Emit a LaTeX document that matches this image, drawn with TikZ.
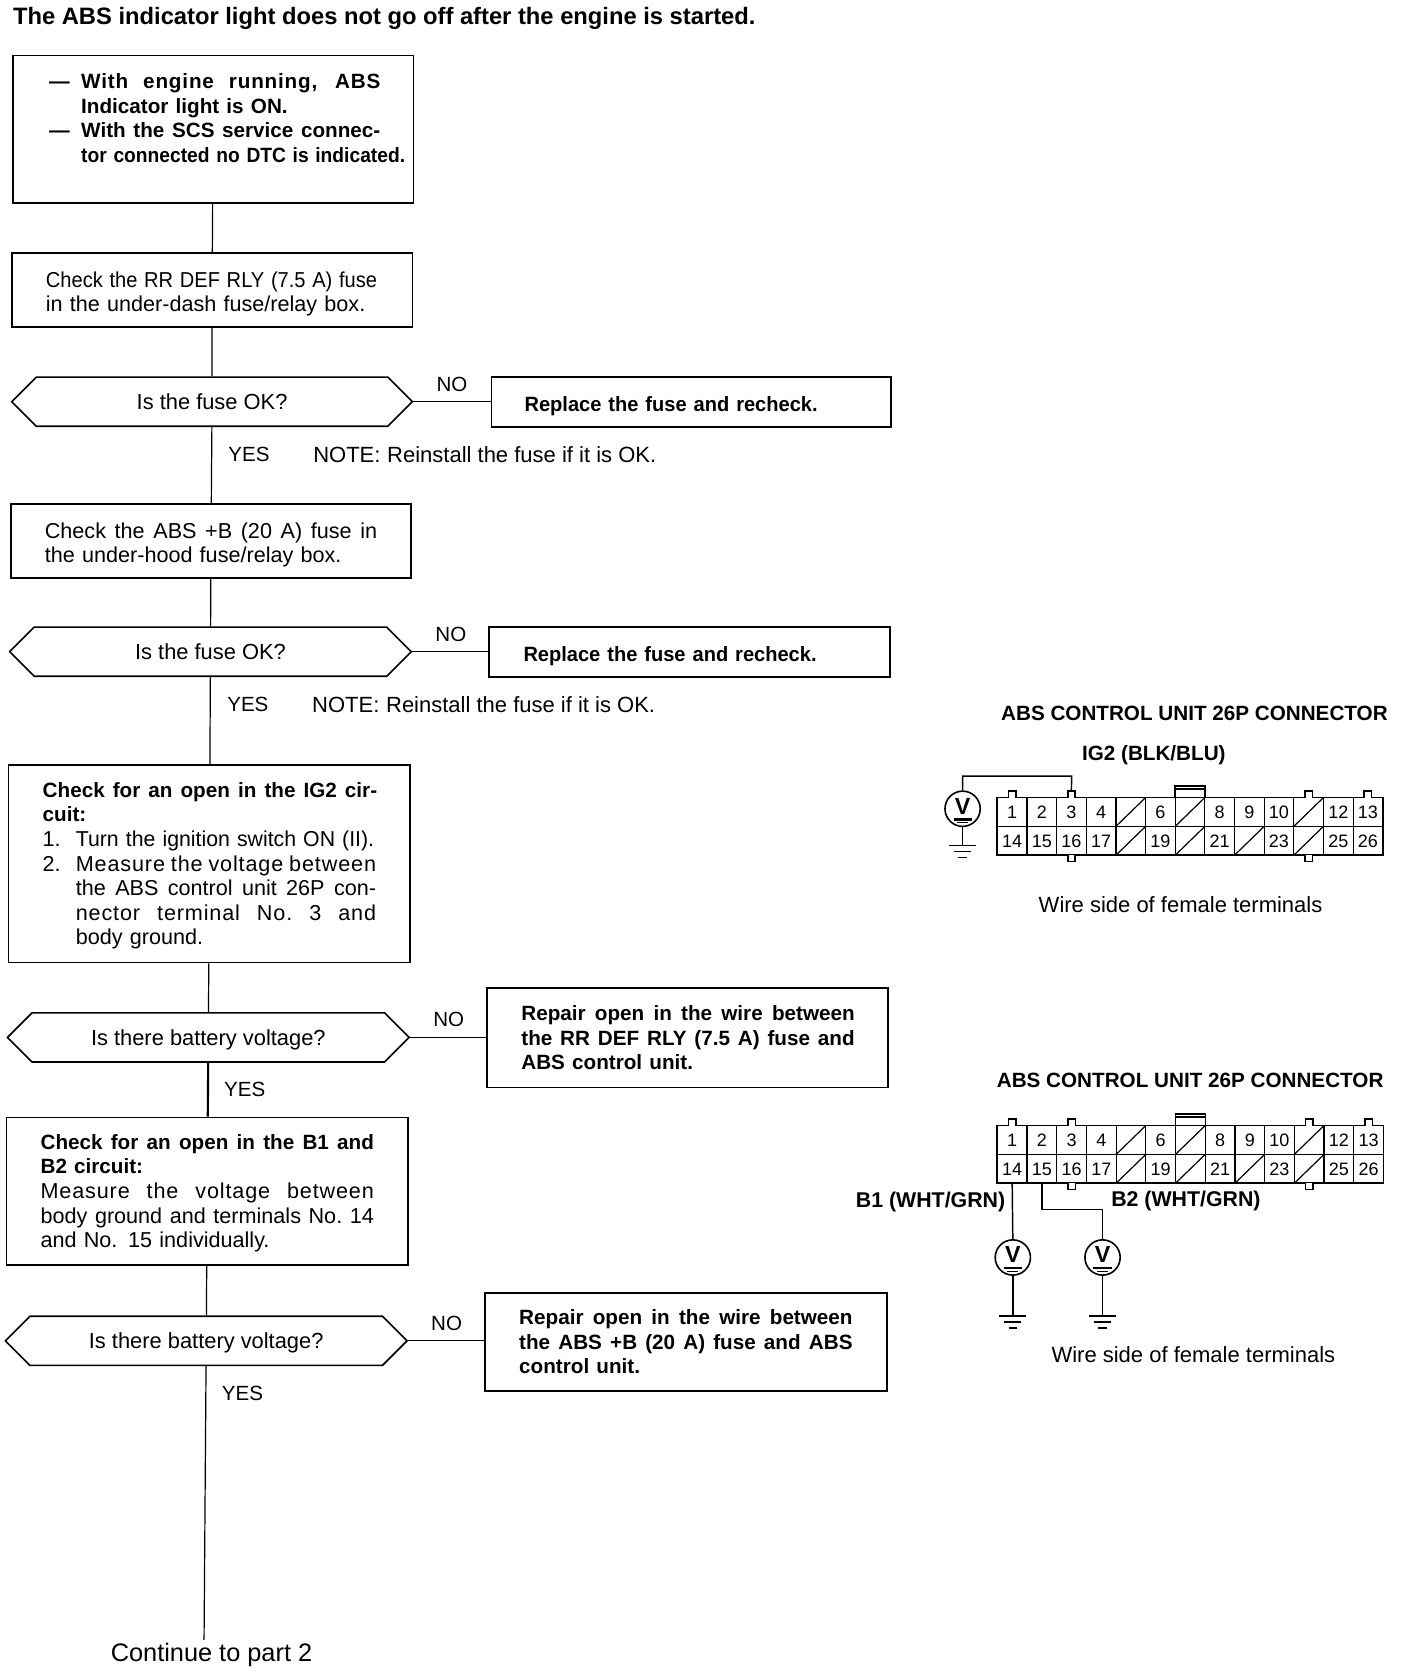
\documentclass[tikz,border=0pt]{standalone}
\usepackage{fontspec}
\setmainfont{Liberation Sans}
\usetikzlibrary{shapes.misc}
\newlength\uu \setlength\uu{0.8013pt}
\newcommand\lnw[2]{\makebox[#1\uu][s]{\spaceskip=.2em plus 1fil\relax\xspaceskip=\spaceskip #2}}
\newcommand\lead[1]{\hspace*{#1\uu}}
\newcommand\hx[1]{\raisebox{-.36em}{#1}}
\newcommand\tp[1]{\rule{0pt}{#1pt}}
\newcommand\ls{\addfontfeature{LetterSpace=4}}
\tikzset{
  wh/.style 2 args={minimum width=#1*0.8013pt,minimum height=#2*0.8013pt},
  bx/.style n args={3}{draw=black,line width=1.3pt,fill=white,align=left,
     minimum width=#1*0.8013pt,minimum height=#2*0.8013pt,
     text width=(#1-2*#3)*0.8013pt,inner xsep=#3*0.8013pt,inner ysep=0pt,
     font=\fontsize{16.2}{18.43}\selectfont},
  hexa/.style n args={2}{draw=black,line width=1.2pt,fill=white,chamfered rectangle,
     chamfered rectangle xsep=29*0.8013pt,chamfered rectangle ysep=#2*0.4006pt,
     minimum width=#1*0.8013pt,minimum height=#2*0.8013pt,inner sep=0pt,
     text height=0pt,text depth=0pt,
     font=\fontsize{16.4}{17}\selectfont},
  lab/.style={inner sep=0pt,font=\fontsize{16.5}{17}\selectfont},
  ylab/.style={inner sep=0pt,font=\fontsize{15.4}{17}\selectfont},
  blab/.style={inner sep=0pt,font=\fontsize{15.5}{17}\selectfont\bfseries},
  cnum/.style={inner sep=0pt,font=\fontsize{13.5}{15}\selectfont},
  wire/.style={draw=black,line width=1.1pt},
  flow/.style={draw=black,line width=0.9pt},
  vm/.style={draw=black,circle,line width=1.2pt,minimum size=33*0.8013pt,inner sep=0pt,
     font=\fontsize{17.5}{19}\selectfont\bfseries},
}
\newcommand\bb{\fontsize{15.5}{18.43}\selectfont\bfseries}
% connector body: #1 prefix, #2 left x, #3 top y, #4 cell width
\newcommand\cnctr[4]{
  \begin{scope}[shift={(#2,#3)}]
    \draw[line width=1.4pt] (0,0) rectangle (13*#4,54);
    \draw[line width=1.1pt] (0,27) -- (13*#4,27);
    \foreach \i in {1,...,12} \draw[line width=0.9pt] (\i*#4,0) -- (\i*#4,54);
    % slashed cells
    \foreach \i in {4,6,10} \draw[line width=0.9pt] (\i*#4,27) -- (\i*#4+#4,0);
    \foreach \i in {4,6,8,10} \draw[line width=0.9pt] (\i*#4,54) -- (\i*#4+#4,27);
    % locating tabs
    \foreach \i in {0,2,10,12} \draw[line width=1.2pt,fill=white] (\i*#4+#4/2-3.5,0) -- (\i*#4+#4/2-3.5,-6) -- (\i*#4+#4/2+3.5,-6) -- (\i*#4+#4/2+3.5,0);
    \foreach \i in {2,10} \draw[line width=1.2pt,fill=white] (\i*#4+#4/2-3.5,54) -- (\i*#4+#4/2-3.5,60) -- (\i*#4+#4/2+3.5,60) -- (\i*#4+#4/2+3.5,54);
    % latch
    \draw[line width=1.1pt] (6*#4,0) -- (6*#4,-11) -- (7*#4,-11) -- (7*#4,0);
    \draw[line width=1.4pt] (6*#4,-8) -- (7*#4,-8);
    \coordinate (#1t3) at (2.5*#4,-6);
    \coordinate (#1b14) at (0.5*#4,54);
    \coordinate (#1b15) at (1.5*#4,54);
    \foreach \i/\t in {1/1,2/2,3/3,4/4,6/6,8/8,9/9,10/10,12/12,13/13}
      \node[cnum] (#1u\i) at (\i*#4-#4/2,14) {\t};
    \foreach \i/\t in {1/14,2/15,3/16,4/17,6/19,8/21,10/23,12/25,13/26}
      \node[cnum] (#1l\i) at (\i*#4-#4/2,41) {\t};
  \end{scope}
}
% voltmeter bars inside circle
\newcommand\vbars[1]{
  \draw[line width=1.6pt] ([xshift=-8.5\uu,yshift=-10\uu]#1.center) -- ([xshift=8.5\uu,yshift=-10\uu]#1.center);
  \draw[line width=0.8pt] ([xshift=-5\uu,yshift=-13\uu]#1.center) -- ([xshift=5\uu,yshift=-13\uu]#1.center);
}
% ground symbol at named coordinate
\newcommand\gndsym[1]{
  \draw[line width=1.3pt] ([xshift=-12.5\uu]#1) -- ([xshift=12.5\uu]#1);
  \draw[line width=1.1pt] ([xshift=-8\uu,yshift=-5.6\uu]#1) -- ([xshift=8\uu,yshift=-5.6\uu]#1);
  \draw[line width=1.1pt] ([xshift=-4\uu,yshift=-11\uu]#1) -- ([xshift=4\uu,yshift=-11\uu]#1);
}
\begin{document}
\begin{tikzpicture}[x=0.8013pt,y=-0.8013pt]
\useasboundingbox (0,0) rectangle (1317.9,1565);
\fill[white] (0,0) rectangle (1317.9,1565);

% title
\node[anchor=west,inner sep=0pt,font=\fontsize{17.8}{19}\selectfont\bfseries] (title) at (12,17) {The ABS indicator light does not go off after the engine is started.};

% left column boxes
\node[bx={375}{138}{8}] (b1) at (199.5,121) {\bb%
  \mbox{\lead{26}\makebox[30\uu][l]{---}\lnw{280}{\ls With engine running, ABS}}\\
  \mbox{\lead{56}Indicator light is ON.}\\
  \mbox{\lead{26}\makebox[30\uu][l]{---}\lnw{280}{With the SCS service connec-}}\\
  \mbox{\lead{56}\scalebox{.93}[1]{tor connected no DTC is indicated.}}\\[-1.4pt]\mbox{}};
\node[bx={375}{69}{32}] (b2) at (198.5,271.5) {%
  \mbox{\tp{17.5}\scalebox{.93}[1]{Check the RR DEF RLY (7.5 A) fuse}}\\
  \mbox{in the under-dash fuse/relay box.}};
\node[hexa={375}{46}] (h1) at (198.5,376) {\hx{Is the fuse OK?}};
\node[bx={375}{69}{32}] (b3) at (197.5,506.5) {%
  \mbox{\tp{17.5}\lnw{311}{Check the ABS +B (20 A) fuse in}}\\
  \mbox{the under-hood fuse/relay box.}};
\node[hexa={376}{46}] (h2) at (197,610) {\hx{Is the fuse OK?}};
\node[bx={376}{185}{32}] (b4) at (196,808.5) {%
  \mbox{\tp{14.2}\lnw{313}{\bb Check for an open in the IG2 cir-}}\\
  \mbox{\bb cuit:}\\
  \mbox{\makebox[31\uu][l]{1.}\scalebox{.985}[1]{Turn the ignition switch ON (II).}}\\
  \mbox{\makebox[31\uu][l]{2.}\lnw{281}{\ls Measure the voltage between}}\\
  \mbox{\lead{31}\lnw{281}{the ABS control unit 26P con-}}\\
  \mbox{\lead{31}\lnw{281}{\ls nector terminal No. 3 and}}\\
  \mbox{\lead{31}body ground.}};
\node[hexa={376}{46}] (h3) at (195,971) {\hx{Is there battery voltage?}};
\node[bx={376}{138}{32}] (b5) at (194,1115) {%
  \mbox{\tp{14.2}\lnw{312}{\bb Check for an open in the B1 and}}\\
  \mbox{\bb B2 circuit:}\\
  \mbox{\lnw{312}{\ls Measure the voltage between}}\\
  \mbox{\lnw{312}{body ground and terminals No. 14}}\\
  \mbox{and No. 15 individually.}};
\node[hexa={376}{46}] (h4) at (193,1255) {\hx{Is there battery voltage?}};
\node[inner sep=0pt,font=\fontsize{19}{21}\selectfont] (cont) at (198,1549) {Continue to part 2};
\coordinate (contin) at (191,1535);

% right column boxes
\node[bx={374}{47}{31}] (r1) at (647,376.5) {\mbox{\tp{17.5}\bb\scalebox{.97}[1]{Replace the fuse and recheck.}}};
\node[bx={375}{47}{32}] (r2) at (645.5,610.5) {\mbox{\tp{17.5}\bb\scalebox{.97}[1]{Replace the fuse and recheck.}}};
\node[bx={375}{93}{32}] (r3) at (643.5,971.5) {\bb%
  \mbox{\lnw{312}{Repair open in the wire between}}\\
  \mbox{\lnw{312}{the RR DEF RLY (7.5 A) fuse and}}\\
  \mbox{ABS control unit.}};
\node[bx={376}{92}{32}] (r4) at (642,1256) {\bb%
  \mbox{\lnw{312}{Repair open in the wire between}}\\
  \mbox{\lnw{312}{the ABS +B (20 A) fuse and ABS}}\\
  \mbox{control unit.}};

% flow connectors
\draw[flow] (b1) -- (b2);
\draw[flow] (b2) -- (h1);
\draw[flow] (h1) -- (b3);
\draw[flow] (b3) -- (h2);
\draw[flow] (h2) -- (b4);
\draw[flow] (b4) -- (h3);
\draw[flow,line width=1.6pt] (h3) -- (b5);
\draw[flow] (b5) -- (h4);
\draw[flow] (h4) -- (contin);
\draw[flow] (h1.east) -- (h1.east -| r1.west);
\draw[flow] (h2.east) -- (h2.east -| r2.west);
\draw[flow] (h3.east) -- (h3.east -| r3.west);
\draw[flow] (h4.east) -- (h4.east -| r4.west);

% flow labels
\node[ylab] (no1) at (423,360) {NO};
\node[ylab] (yes1) at (233,425) {YES};
\node[lab,anchor=west] (note1) at (293,426) {NOTE:\hspace{5pt}Reinstall the fuse if it is OK.};
\node[ylab] (no2) at (422,594) {NO};
\node[ylab] (yes2) at (232,659) {YES};
\node[lab,anchor=west] (note2) at (292,660) {NOTE:\hspace{5pt}Reinstall the fuse if it is OK.};
\node[ylab] (no3) at (420,954) {NO};
\node[ylab] (yes3) at (229,1020) {YES};
\node[ylab] (no4) at (418,1239) {NO};
\node[ylab] (yes4) at (227,1304) {YES};

% upper connector
\node[blab] (t1) at (1118,668) {ABS CONTROL UNIT 26P CONNECTOR};
\node[blab] (ig2) at (1080,707) {IG2 (BLK/BLU)};
\cnctr{c}{933.5}{746.5}{27.75}
\node[vm] (vm1) at (901,757) {\raisebox{4pt}{V}};
\vbars{vm1}
\coordinate (cw) at (1003,726.5);
\draw[wire] (vm1.north) |- (cw) -- (ct3);
\coordinate (g1) at (901,791.5);
\draw[wire] (vm1.south) -- (g1);
\gndsym{g1}
\node[lab] (wire1) at (1105,847) {Wire side of female terminals};

% lower connector
\node[blab] (t2) at (1114,1011) {ABS CONTROL UNIT 26P CONNECTOR};
\cnctr{d}{933.5}{1053.5}{27.8}
\node[blab,font=\fontsize{16}{17}\selectfont\bfseries] (b1l) at (871,1125) {B1 (WHT/GRN)};
\node[blab,font=\fontsize{16}{17}\selectfont\bfseries] (b2l) at (1110,1124) {B2 (WHT/GRN)};
\node[vm] (vm2) at (948,1177) {\raisebox{4pt}{V}};
\vbars{vm2}
\node[vm] (vm3) at (1032,1177) {\raisebox{4pt}{V}};
\vbars{vm3}
\draw[wire] (db14) -- (vm2.north);
\coordinate (dw) at (1032,1132);
\draw[wire] (db15) |- (dw) -- (vm3.north);
\coordinate (g2) at (948,1232);
\coordinate (g3) at (1032,1232);
\draw[wire] (vm2.south) -- (g2);
\draw[wire] (vm3.south) -- (g3);
\gndsym{g2}
\gndsym{g3}
\node[lab] (wire2) at (1117,1268) {Wire side of female terminals};
\end{tikzpicture}
\end{document}
